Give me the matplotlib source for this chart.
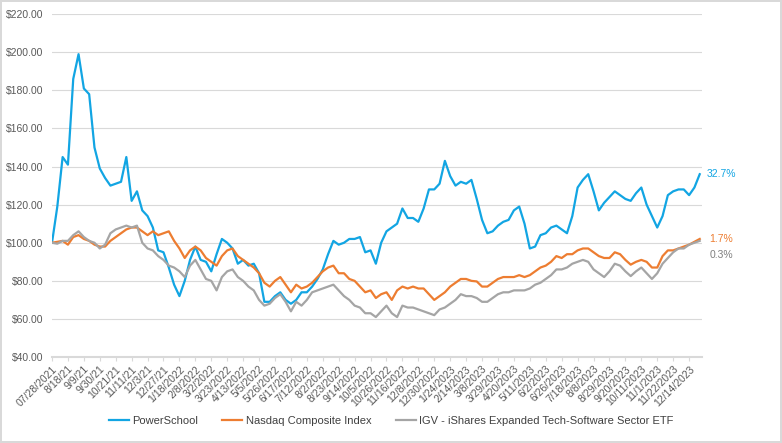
import numpy as np
import matplotlib

matplotlib.use("Agg")
import matplotlib.pyplot as plt

plt.rcParams['font.family'] = ['Liberation Sans', 'DejaVu Sans']

# x-axis categories (every 15th trading day gets a label)
tick_labels = [
    "07/28/2021", "8/18/21", "9/9/21", "9/30/21", "10/21/21", "11/11/21", "12/3/21",
    "12/27/21", "1/18/2022", "2/8/2022", "3/2/2022", "3/23/2022", "4/13/2022",
    "5/5/2022", "5/26/2022", "6/17/2022", "7/12/2022", "8/2/2022", "8/23/2022",
    "9/14/2022", "10/5/2022", "10/26/2022", "11/16/2022", "12/8/2022", "12/30/2022",
    "1/24/2023", "2/14/2023", "3/8/2023", "3/29/2023", "4/20/2023", "5/11/2023",
    "6/2/2023", "6/26/2023", "7/18/2023", "8/8/2023", "8/29/2023", "9/20/2023",
    "10/11/2023", "11/1/2023", "11/22/2023", "12/14/2023",
]
label_step = 15      # trading days between labels
sample_step = 5      # trading days between the values below
n_days = 611

# indexed values ($100 start), one value per week
powerschool = [
    100, 119, 145, 141, 186, 199, 181, 178, 150, 139, 134, 130, 131, 132, 145, 122,
    127, 117, 114, 108, 96, 95, 87, 78, 72, 80, 91, 98, 91, 90, 85, 94,
    102, 100, 97, 89, 91, 88, 89, 84, 69, 69, 72, 74, 70, 68, 70, 74,
    74, 77, 81, 86, 94, 101, 99, 100, 102, 102, 103, 95, 96, 89, 100, 106,
    108, 110, 118, 113, 113, 111, 118, 128, 128, 131, 143, 135, 130, 132, 131, 133,
    123, 112, 105, 106, 109, 111, 112, 117, 119, 110, 97, 98, 104, 105, 108, 109,
    107, 105, 114, 129, 133, 136, 127, 117, 121, 124, 127, 125, 123, 122, 126, 129,
    120, 114, 108, 114, 125, 127, 128, 128, 125, 129, 136,
]
nasdaq = [
    100, 100.5, 101, 99, 103, 104, 102, 101, 99, 98, 98, 101, 103, 105, 107, 108,
    108, 106, 104, 106, 104, 105, 106, 101, 97, 92, 96, 98, 96, 92, 90, 88,
    93, 96, 97, 93, 91, 89, 87, 84, 79, 77, 80, 82, 78, 74, 78, 76,
    77, 79, 82, 85, 87, 88, 84, 84, 81, 80, 77, 74, 75, 71, 73, 74,
    70, 75, 77, 76, 77, 76, 76, 73, 70, 72, 74, 77, 79, 81, 81, 80,
    79.7, 77, 77, 79, 81, 82, 82, 82, 83, 82, 83, 85, 87, 88, 90, 93,
    92, 94, 94, 96, 97, 97, 95, 93, 92, 92, 95, 94, 91, 88.5, 90, 91,
    90, 87, 87, 93, 96, 96, 97, 98, 99, 100.5, 102,
]
igv = [
    100, 99.5, 101, 101, 104, 106, 103, 101, 100, 97, 99, 105, 107, 108, 109, 108,
    109, 100, 97, 96, 93, 91, 88, 87, 85, 82, 88, 91, 86, 81, 80, 75,
    82, 85, 86, 82, 80, 77, 75, 70, 67, 68, 71, 73, 69, 64, 69, 67,
    70, 74, 75, 76, 77, 78, 75, 72, 70, 67, 66, 63, 63, 61, 64, 67,
    63, 61, 67, 66, 66, 65, 64, 63, 62, 65, 66, 68, 70, 73, 72, 72,
    71, 69, 69, 71, 73, 74, 74, 75, 75, 75, 76, 78, 79, 81, 83, 86,
    86, 87, 89, 90, 91, 90, 86, 84, 82, 85, 89, 88, 85, 82.5, 85, 87,
    84, 81, 84, 89, 92, 95, 97, 97, 99, 100, 101,
]
series_names = ["PowerSchool", "Nasdaq Composite Index",
                "IGV - iShares Expanded Tech-Software Sector ETF"]
end_labels = ["32.7%", "1.7%", "0.3%"]

colors = ["#12A5E3", "#ED7D31", "#A5A5A5"]
label_colors = ["#12A5E3", "#ED7D31", "#7F7F7F"]
label_offsets = [(-2, 0), (0, 0), (0, -10)]

x = np.arange(len(powerschool)) * sample_step

fig = plt.figure(figsize=(7.82, 4.43), dpi=100)
fig.patch.set_edgecolor("#D9D9D9")
fig.patch.set_linewidth(1.5)
ax = fig.add_axes([0.0665, 0.194, 0.831, 0.774])

for vals, name, c, lab, lc, off in zip([powerschool, nasdaq, igv], series_names,
                                       colors, end_labels, label_colors, label_offsets):
    ax.plot(x, vals, color=c, lw=1.6, label=name, solid_joinstyle="round")
    ax.annotate(lab, xy=(x[-1], vals[-1]), xytext=(7 + off[0], off[1]),
                textcoords="offset points", color=lc, fontsize=7.5, va="center")

ax.set_ylim(40, 220)
ax.set_yticks(np.arange(40, 221, 20))
ax.set_yticklabels([f"${v:.2f}" for v in np.arange(40, 221, 20)])
ax.set_xlim(0, n_days + 1)
ax.set_xticks(np.arange(len(tick_labels)) * label_step)
ax.set_xticklabels(tick_labels, rotation=45, ha="right", rotation_mode="anchor")

ax.grid(axis="y", color="#D9D9D9", lw=0.8)
ax.set_axisbelow(True)
for s in ["top", "right", "left"]:
    ax.spines[s].set_visible(False)
ax.spines["bottom"].set_color("#D9D9D9")
ax.spines["bottom"].set_linewidth(1.5)
ax.tick_params(axis="y", length=0, pad=6, labelsize=7.5, labelcolor="#595959")
ax.tick_params(axis="x", length=3, color="#D9D9D9", pad=2, labelsize=7.5,
               labelcolor="#595959")

fig.legend(loc="center", bbox_to_anchor=(0.5, 0.05), ncol=3, frameon=False,
           fontsize=8, handlelength=1.8, columnspacing=2.2, handletextpad=0.3,
           labelcolor="#404040")

fig.savefig("out.png", dpi=100)
